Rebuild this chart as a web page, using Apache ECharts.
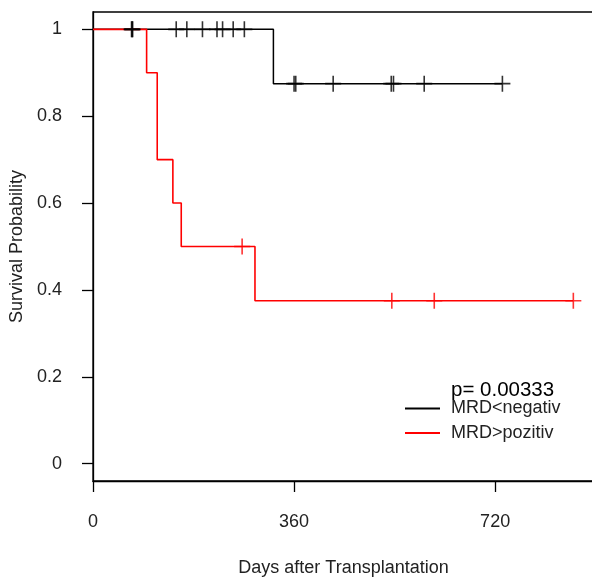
<!DOCTYPE html>
<html>
<head>
<meta charset="utf-8">
<script src="https://cdn.jsdelivr.net/npm/echarts@6/dist/echarts.min.js"></script>
<style>
  html, body { margin: 0; padding: 0; background: #fff; }
  #chart { width: 592px; height: 580px; }
</style>
</head>
<body>
<div id="chart"></div>
<script>
// Kaplan-Meier curves (days, survival)
const negTimes = [0, 323, 733];
const negSurv = [1, 0.875, 0.875];
const negCensor = [69, 70, 71, 149, 168, 196, 222, 232, 251, 271, 360, 363, 430, 534, 538, 593, 733];

const posTimes = [0, 96, 115, 143, 158, 290, 860];
const posSurv = [1, 0.9, 0.7, 0.6, 0.5, 0.375, 0.375];
const posCensor = [267, 535, 611, 860];

const xTicks = [0, 360, 720];
const yTicks = [0, 0.2, 0.4, 0.6, 0.8, 1];
const pText = 'p= 0.00333';
const groupNames = ['MRD<negativ', 'MRD>pozitiv'];

// survival at time t on the step curve
function survAt(times, surv, t) {
  let s = surv[0];
  for (let i = 0; i < times.length; i++) {
    if (times[i] <= t) s = surv[i];
  }
  return s;
}

const plus = 'path://M-0.8,-8h1.6v16h-1.6zM-8,-0.8h16v1.6h-16z';
const font = 'Liberation Sans, Arial, sans-serif';

const chart = echarts.init(document.getElementById('chart'));

chart.setOption({
  animation: false,
  backgroundColor: '#fff',
  title: {
    text: pText,
    left: 446,
    top: 375,
    textStyle: { fontFamily: font, fontSize: 20.5, fontWeight: 'normal', color: '#000' }
  },
  legend: {
    data: groupNames,
    orient: 'vertical',
    left: 400,
    top: 394,
    itemWidth: 35,
    itemHeight: 2,
    itemGap: 5.5,
    icon: 'rect',
    textStyle: { fontFamily: font, fontSize: 18, color: '#222', lineHeight: 19, padding: [0, 0, 0, 6] }
  },
  grid: {
    left: 93,
    top: 12,
    right: -2,
    bottom: 99,
    outerBoundsMode: 'none',
    show: true,
    borderColor: '#000',
    borderWidth: 1.3
  },
  xAxis: {
    type: 'value',
    min: 0,
    max: 897,
    name: 'Days after Transplantation',
    nameLocation: 'middle',
    nameGap: 78,
    nameTextStyle: { fontFamily: font, fontSize: 18, color: '#222' },
    axisLine: { show: true, onZero: false, lineStyle: { color: '#000', width: 1.3 } },
    axisTick: { show: true, length: 11, lineStyle: { color: '#000', width: 1.3 }, customValues: xTicks },
    axisLabel: { margin: 32, fontFamily: font, fontSize: 18, color: '#222', customValues: xTicks },
    splitLine: { show: false }
  },
  yAxis: {
    type: 'value',
    min: -0.04,
    max: 1.04,
    name: 'Survival Probability',
    nameLocation: 'middle',
    nameGap: 66,
    nameTextStyle: { fontFamily: font, fontSize: 18, color: '#222' },
    axisLine: { show: true, onZero: false, lineStyle: { color: '#000', width: 1.3 } },
    axisTick: { show: true, length: 11, lineStyle: { color: '#000', width: 1.3 }, customValues: yTicks },
    axisLabel: { margin: 31, fontFamily: font, fontSize: 18, color: '#222', customValues: yTicks },
    splitLine: { show: false }
  },
  series: [
    {
      name: groupNames[0],
      type: 'line',
      step: 'end',
      symbol: 'none',
      color: '#000',
      lineStyle: { color: '#000', width: 1.5 },
      data: negTimes.map((t, i) => [t, negSurv[i]]),
      z: 2
    },
    {
      name: groupNames[1],
      type: 'line',
      step: 'end',
      symbol: 'none',
      color: '#ff0000',
      lineStyle: { color: '#ff0000', width: 1.6 },
      data: posTimes.map((t, i) => [t, posSurv[i]]),
      z: 3
    },
    {
      name: groupNames[0],
      type: 'scatter',
      symbol: plus,
      symbolSize: 16,
      itemStyle: { color: '#000' },
      data: negCensor.map(t => [t, survAt(negTimes, negSurv, t)]),
      z: 4
    },
    {
      name: groupNames[1],
      type: 'scatter',
      symbol: plus,
      symbolSize: 16,
      itemStyle: { color: '#ff0000' },
      data: posCensor.map(t => [t, survAt(posTimes, posSurv, t)]),
      z: 5
    }
  ]
});
</script>
</body>
</html>
